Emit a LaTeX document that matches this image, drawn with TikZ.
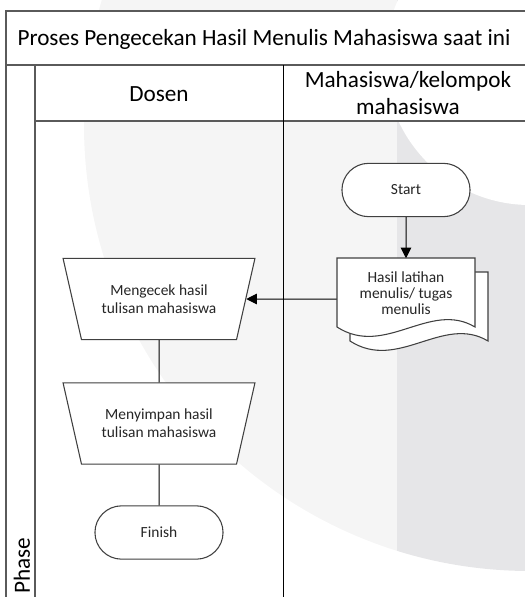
\documentclass[tikz,border=0pt]{standalone}
\usepackage{fontspec}
\setmainfont{Carlito}
\usetikzlibrary{shapes.geometric, shapes.misc, arrows.meta}

\definecolor{wmlight}{HTML}{F5F5F5}
\definecolor{wmdark}{HTML}{E6E6E8}
\definecolor{edge}{HTML}{404040}
\definecolor{pool}{HTML}{5A5A5A}

\begin{document}
\begin{tikzpicture}[x=0.75pt, y=-0.75pt, font=\fontsize{11.6}{13.5}\selectfont,
    terminal/.style={rounded rectangle, draw=edge, line width=0.8pt, fill=white,
        minimum width=102.75pt, minimum height=40pt, text=black!85},
    manualop/.style={trapezium, shape border rotate=180, trapezium stretches=true,
        trapezium left angle=68.7, trapezium right angle=68.7, draw=edge,
        line width=0.8pt, fill=white, minimum width=144pt, minimum height=61pt,
        align=center, text=black!85},
    page/.style={draw=edge, line width=0.8pt, fill=white},
    flow/.style={line width=0.75pt, black},
    lane/.style={draw=pool, line width=1pt},
    head/.style={font=\fontsize{17.4}{20.5}\selectfont, align=center}]

    \useasboundingbox (0,0) rectangle (525,597);
    \clip (0,0) rectangle (525,597);

    % watermark in the background
    \begin{scope}
        \clip (0,0) rectangle (397,597);
        \fill[wmlight] (530,125) circle[radius=334.5pt];
    \end{scope}
    \begin{scope}
        \clip (397,0) rectangle (525,597);
        \fill[wmdark] (530,125) circle[radius=334.5pt];
    \end{scope}
    \fill[white] (530,60) circle[radius=108.75pt];

    % pool and lanes
    \fill[white] (6,11) rectangle (525,65);
    \fill[white] (35,65) rectangle (525,121);
    \draw[lane] (525,11) -- (6,11) -- (6,597);
    \draw[lane] (6,65) -- (525,65);
    \draw[lane] (35,65) -- (35,597);
    \draw[lane] (35,121) -- (525,121);
    \draw[flow] (283,65) -- (283,597);

    \node[head] (title) at (264,39) {Proses Pengecekan Hasil Menulis Mahasiswa saat ini};
    \node[head] (dosen) at (159,94) {Dosen};
    \node[head] (mhs) at (408,93) {Mahasiswa/kelompok\\mahasiswa};
    \node[head, rotate=90, inner sep=1pt] (phase) at (22,566) {Phase};

    % multi-document
    \filldraw[page] (350,272) -- (488,272) -- (488,341)
        .. controls (443,314) and (398,372) .. (350,341) -- cycle;
    \filldraw[page] (337,258) -- (475,258) -- (475,327)
        .. controls (430,300) and (385,358) .. (337,327) -- cycle;
    \node[align=center, minimum width=103.5pt, minimum height=51.75pt,
        font=\fontsize{11.6}{11.8}\selectfont, text=black!85] (doc) at (406,293)
        {Hasil latihan\\menulis/ tugas\\menulis};

    \node[terminal] (start) at (406,190) {Start};
    \node[manualop] (cek) at (159,299) {Mengecek hasil\\tulisan mahasiswa};
    \node[manualop] (simpan) at (159,423.5) {Menyimpan hasil\\tulisan mahasiswa};
    \node[terminal] (finish) at (159,532.5) {Finish};

    \draw[flow, -{Triangle[length=8pt, width=8pt]}] (start) -- (doc);
    \draw[flow, -{Triangle[length=8pt, width=8pt]}] (doc.west |- cek) -- (cek);
    \draw[flow] (cek) -- (simpan);
    \draw[flow] (simpan) -- (finish);
\end{tikzpicture}
\end{document}
